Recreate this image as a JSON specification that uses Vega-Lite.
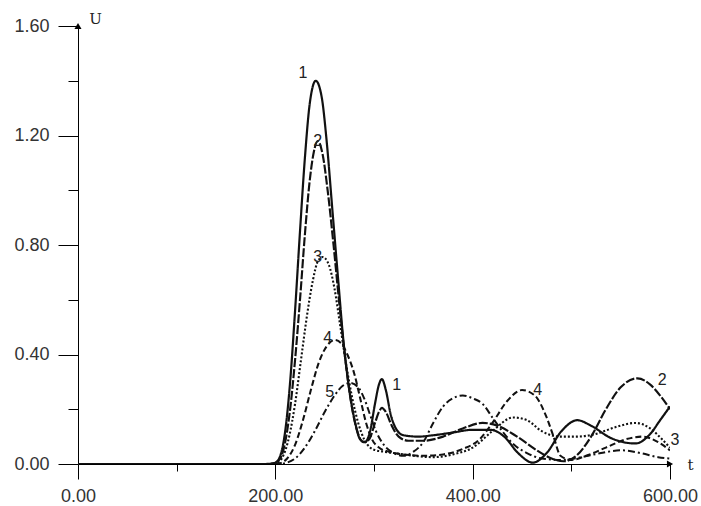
{
  "$schema": "https://vega.github.io/schema/vega-lite/v6.json",
  "width": 592,
  "height": 438,
  "autosize": "none",
  "padding": {"left": 78, "top": 26, "right": 31, "bottom": 42},
  "background": "white",
  "view": {"stroke": null},
  "config": {
    "axis": {"domainColor": "#000", "tickColor": "#000", "grid": false, "labelFont": "Liberation Sans", "labelFontSize": 18, "labelColor": "#333", "titleFont": "DejaVu Serif", "titleFontSize": 15, "titleFontWeight": "normal", "titleColor": "#222"}
  },
  "datasets": {
    "curves": [
      {"curve": "1", "t": 0, "U": 0}, {"curve": "1", "t": 190, "U": 0}, {"curve": "1", "t": 200, "U": 0.005}, {"curve": "1", "t": 205, "U": 0.03}, {"curve": "1", "t": 210, "U": 0.12}, {"curve": "1", "t": 215, "U": 0.3}, {"curve": "1", "t": 220, "U": 0.56}, {"curve": "1", "t": 225, "U": 0.85}, {"curve": "1", "t": 230, "U": 1.12}, {"curve": "1", "t": 235, "U": 1.32}, {"curve": "1", "t": 241, "U": 1.4}, {"curve": "1", "t": 247, "U": 1.34}, {"curve": "1", "t": 252, "U": 1.18}, {"curve": "1", "t": 258, "U": 0.92}, {"curve": "1", "t": 264, "U": 0.66}, {"curve": "1", "t": 269, "U": 0.45}, {"curve": "1", "t": 275, "U": 0.27}, {"curve": "1", "t": 281, "U": 0.15}, {"curve": "1", "t": 286, "U": 0.09}, {"curve": "1", "t": 291, "U": 0.08}, {"curve": "1", "t": 296, "U": 0.12}, {"curve": "1", "t": 301, "U": 0.22}, {"curve": "1", "t": 305, "U": 0.29}, {"curve": "1", "t": 308, "U": 0.31}, {"curve": "1", "t": 312, "U": 0.27}, {"curve": "1", "t": 317, "U": 0.18}, {"curve": "1", "t": 323, "U": 0.125}, {"curve": "1", "t": 330, "U": 0.105}, {"curve": "1", "t": 345, "U": 0.1}, {"curve": "1", "t": 360, "U": 0.105}, {"curve": "1", "t": 380, "U": 0.115}, {"curve": "1", "t": 400, "U": 0.125}, {"curve": "1", "t": 418, "U": 0.125}, {"curve": "1", "t": 432, "U": 0.1}, {"curve": "1", "t": 446, "U": 0.04}, {"curve": "1", "t": 461, "U": 0.005}, {"curve": "1", "t": 475, "U": 0.04}, {"curve": "1", "t": 490, "U": 0.12}, {"curve": "1", "t": 506, "U": 0.16}, {"curve": "1", "t": 520, "U": 0.14}, {"curve": "1", "t": 540, "U": 0.095}, {"curve": "1", "t": 565, "U": 0.075}, {"curve": "1", "t": 580, "U": 0.11}, {"curve": "1", "t": 590, "U": 0.16}, {"curve": "1", "t": 600, "U": 0.21},

      {"curve": "2", "t": 0, "U": 0}, {"curve": "2", "t": 195, "U": 0}, {"curve": "2", "t": 200, "U": 0.005}, {"curve": "2", "t": 205, "U": 0.02}, {"curve": "2", "t": 210, "U": 0.08}, {"curve": "2", "t": 215, "U": 0.2}, {"curve": "2", "t": 220, "U": 0.38}, {"curve": "2", "t": 225, "U": 0.6}, {"curve": "2", "t": 230, "U": 0.84}, {"curve": "2", "t": 235, "U": 1.04}, {"curve": "2", "t": 239, "U": 1.14}, {"curve": "2", "t": 243, "U": 1.18}, {"curve": "2", "t": 248, "U": 1.13}, {"curve": "2", "t": 253, "U": 1.0}, {"curve": "2", "t": 259, "U": 0.8}, {"curve": "2", "t": 265, "U": 0.58}, {"curve": "2", "t": 271, "U": 0.38}, {"curve": "2", "t": 277, "U": 0.22}, {"curve": "2", "t": 283, "U": 0.12}, {"curve": "2", "t": 289, "U": 0.08}, {"curve": "2", "t": 295, "U": 0.09}, {"curve": "2", "t": 301, "U": 0.15}, {"curve": "2", "t": 305, "U": 0.19}, {"curve": "2", "t": 308, "U": 0.205}, {"curve": "2", "t": 312, "U": 0.19}, {"curve": "2", "t": 318, "U": 0.14}, {"curve": "2", "t": 325, "U": 0.1}, {"curve": "2", "t": 335, "U": 0.085}, {"curve": "2", "t": 350, "U": 0.085}, {"curve": "2", "t": 370, "U": 0.1}, {"curve": "2", "t": 390, "U": 0.13}, {"curve": "2", "t": 410, "U": 0.15}, {"curve": "2", "t": 425, "U": 0.14}, {"curve": "2", "t": 445, "U": 0.1}, {"curve": "2", "t": 465, "U": 0.05}, {"curve": "2", "t": 480, "U": 0.02}, {"curve": "2", "t": 492, "U": 0.01}, {"curve": "2", "t": 505, "U": 0.03}, {"curve": "2", "t": 520, "U": 0.1}, {"curve": "2", "t": 535, "U": 0.2}, {"curve": "2", "t": 550, "U": 0.28}, {"curve": "2", "t": 567, "U": 0.313}, {"curve": "2", "t": 580, "U": 0.29}, {"curve": "2", "t": 590, "U": 0.25}, {"curve": "2", "t": 600, "U": 0.2},

      {"curve": "3", "t": 0, "U": 0}, {"curve": "3", "t": 195, "U": 0}, {"curve": "3", "t": 202, "U": 0.005}, {"curve": "3", "t": 208, "U": 0.03}, {"curve": "3", "t": 214, "U": 0.1}, {"curve": "3", "t": 220, "U": 0.22}, {"curve": "3", "t": 226, "U": 0.38}, {"curve": "3", "t": 232, "U": 0.54}, {"curve": "3", "t": 238, "U": 0.67}, {"curve": "3", "t": 243, "U": 0.74}, {"curve": "3", "t": 248, "U": 0.756}, {"curve": "3", "t": 254, "U": 0.73}, {"curve": "3", "t": 260, "U": 0.64}, {"curve": "3", "t": 266, "U": 0.5}, {"curve": "3", "t": 272, "U": 0.36}, {"curve": "3", "t": 278, "U": 0.24}, {"curve": "3", "t": 284, "U": 0.15}, {"curve": "3", "t": 290, "U": 0.09}, {"curve": "3", "t": 296, "U": 0.06}, {"curve": "3", "t": 302, "U": 0.05}, {"curve": "3", "t": 310, "U": 0.045}, {"curve": "3", "t": 320, "U": 0.04}, {"curve": "3", "t": 340, "U": 0.03}, {"curve": "3", "t": 360, "U": 0.025}, {"curve": "3", "t": 380, "U": 0.035}, {"curve": "3", "t": 400, "U": 0.06}, {"curve": "3", "t": 420, "U": 0.12}, {"curve": "3", "t": 441, "U": 0.17}, {"curve": "3", "t": 455, "U": 0.16}, {"curve": "3", "t": 470, "U": 0.12}, {"curve": "3", "t": 488, "U": 0.1}, {"curve": "3", "t": 505, "U": 0.1}, {"curve": "3", "t": 525, "U": 0.11}, {"curve": "3", "t": 545, "U": 0.135}, {"curve": "3", "t": 565, "U": 0.15}, {"curve": "3", "t": 580, "U": 0.13}, {"curve": "3", "t": 592, "U": 0.09}, {"curve": "3", "t": 600, "U": 0.06},

      {"curve": "4", "t": 0, "U": 0}, {"curve": "4", "t": 200, "U": 0}, {"curve": "4", "t": 205, "U": 0.003}, {"curve": "4", "t": 212, "U": 0.02}, {"curve": "4", "t": 220, "U": 0.07}, {"curve": "4", "t": 228, "U": 0.16}, {"curve": "4", "t": 236, "U": 0.27}, {"curve": "4", "t": 244, "U": 0.37}, {"curve": "4", "t": 252, "U": 0.43}, {"curve": "4", "t": 260, "U": 0.453}, {"curve": "4", "t": 267, "U": 0.44}, {"curve": "4", "t": 273, "U": 0.4}, {"curve": "4", "t": 280, "U": 0.33}, {"curve": "4", "t": 286, "U": 0.24}, {"curve": "4", "t": 292, "U": 0.15}, {"curve": "4", "t": 298, "U": 0.09}, {"curve": "4", "t": 305, "U": 0.06}, {"curve": "4", "t": 315, "U": 0.045}, {"curve": "4", "t": 330, "U": 0.035}, {"curve": "4", "t": 350, "U": 0.03}, {"curve": "4", "t": 370, "U": 0.035}, {"curve": "4", "t": 390, "U": 0.055}, {"curve": "4", "t": 407, "U": 0.09}, {"curve": "4", "t": 420, "U": 0.15}, {"curve": "4", "t": 435, "U": 0.23}, {"curve": "4", "t": 450, "U": 0.27}, {"curve": "4", "t": 463, "U": 0.25}, {"curve": "4", "t": 475, "U": 0.17}, {"curve": "4", "t": 482, "U": 0.1}, {"curve": "4", "t": 489, "U": 0.03}, {"curve": "4", "t": 500, "U": 0.015}, {"curve": "4", "t": 515, "U": 0.03}, {"curve": "4", "t": 535, "U": 0.06}, {"curve": "4", "t": 555, "U": 0.09}, {"curve": "4", "t": 572, "U": 0.1}, {"curve": "4", "t": 588, "U": 0.08}, {"curve": "4", "t": 600, "U": 0.05},

      {"curve": "5", "t": 0, "U": 0}, {"curve": "5", "t": 205, "U": 0}, {"curve": "5", "t": 212, "U": 0.005}, {"curve": "5", "t": 220, "U": 0.02}, {"curve": "5", "t": 230, "U": 0.06}, {"curve": "5", "t": 240, "U": 0.12}, {"curve": "5", "t": 250, "U": 0.19}, {"curve": "5", "t": 260, "U": 0.25}, {"curve": "5", "t": 268, "U": 0.285}, {"curve": "5", "t": 276, "U": 0.296}, {"curve": "5", "t": 284, "U": 0.28}, {"curve": "5", "t": 290, "U": 0.24}, {"curve": "5", "t": 296, "U": 0.18}, {"curve": "5", "t": 302, "U": 0.12}, {"curve": "5", "t": 310, "U": 0.07}, {"curve": "5", "t": 320, "U": 0.04}, {"curve": "5", "t": 330, "U": 0.03}, {"curve": "5", "t": 340, "U": 0.045}, {"curve": "5", "t": 350, "U": 0.08}, {"curve": "5", "t": 360, "U": 0.15}, {"curve": "5", "t": 370, "U": 0.21}, {"curve": "5", "t": 380, "U": 0.24}, {"curve": "5", "t": 390, "U": 0.25}, {"curve": "5", "t": 400, "U": 0.24}, {"curve": "5", "t": 410, "U": 0.22}, {"curve": "5", "t": 420, "U": 0.17}, {"curve": "5", "t": 430, "U": 0.12}, {"curve": "5", "t": 442, "U": 0.07}, {"curve": "5", "t": 455, "U": 0.04}, {"curve": "5", "t": 470, "U": 0.02}, {"curve": "5", "t": 490, "U": 0.015}, {"curve": "5", "t": 510, "U": 0.025}, {"curve": "5", "t": 530, "U": 0.04}, {"curve": "5", "t": 550, "U": 0.05}, {"curve": "5", "t": 570, "U": 0.04}, {"curve": "5", "t": 588, "U": 0.025}, {"curve": "5", "t": 600, "U": 0.02}
    ],
    "labels": [
      {"label": "1", "t": 228, "U": 1.43},
      {"label": "2", "t": 243, "U": 1.18},
      {"label": "3", "t": 243, "U": 0.756},
      {"label": "4", "t": 253, "U": 0.46},
      {"label": "5", "t": 255, "U": 0.263},
      {"label": "1", "t": 323, "U": 0.289},
      {"label": "4", "t": 466, "U": 0.27},
      {"label": "2", "t": 592, "U": 0.307},
      {"label": "3", "t": 605, "U": 0.088}
    ],
    "arrows": [
      {"t": 0, "U": 1.6, "dir": "up"},
      {"t": 600, "U": 0, "dir": "right"}
    ]
  },
  "layer": [
    {
      "data": {"name": "curves"},
      "mark": {"type": "line", "interpolate": "monotone", "color": "#111", "clip": true},
      "encoding": {
        "x": {"field": "t", "type": "quantitative", "scale": {"domain": [0, 600], "nice": false, "zero": false},
          "axis": {"values": [0, 100, 200, 300, 400, 500, 600], "labelExpr": "datum.value % 200 === 0 ? format(datum.value, '.2f') : ''",
            "tickSize": {"condition": {"test": "datum.value % 200 !== 0", "value": 7}, "value": 15},
            "labelPadding": 8, "title": "t", "titleAngle": 0, "titleX": 612, "titleY": 0, "titleAlign": "center", "titleBaseline": "middle", "labelFlush": false}},
        "y": {"field": "U", "type": "quantitative", "scale": {"domain": [0, 1.6], "nice": false},
          "axis": {"values": [0, 0.2, 0.4, 0.6, 0.8, 1.0, 1.2, 1.4, 1.6], "labelExpr": "abs(datum.value/0.4 - round(datum.value/0.4)) < 0.01 ? format(datum.value, '.2f') : ''",
            "tickSize": {"condition": {"test": "abs(datum.value/0.4 - round(datum.value/0.4)) > 0.01", "value": 10}, "value": 20},
            "labelPadding": 9, "title": "U", "titleAngle": 0, "titleX": 17, "titleY": -8, "titleAlign": "center", "titleBaseline": "middle", "labelFlush": false}},
        "detail": {"field": "curve"},
        "strokeDash": {"field": "curve", "type": "nominal", "scale": {"domain": ["1", "2", "3", "4", "5"], "range": [[1, 0], [9, 2], [2, 2], [6, 3], [7, 3, 2, 3]]}, "legend": null},
        "strokeWidth": {"field": "curve", "type": "nominal", "scale": {"domain": ["1", "2", "3", "4", "5"], "range": [2.2, 2, 1.8, 1.7, 1.6]}, "legend": null}
      }
    },
    {
      "data": {"name": "labels"},
      "mark": {"type": "text", "font": "Liberation Sans", "fontSize": 16, "color": "#222", "align": "center", "baseline": "middle"},
      "encoding": {
        "x": {"field": "t", "type": "quantitative"},
        "y": {"field": "U", "type": "quantitative"},
        "text": {"field": "label"}
      }
    },
    {
      "data": {"name": "arrows"},
      "mark": {"type": "point", "filled": true, "color": "#000", "size": 50, "opacity": 1},
      "encoding": {
        "x": {"field": "t", "type": "quantitative"},
        "y": {"field": "U", "type": "quantitative"},
        "shape": {"field": "dir", "type": "nominal", "scale": {"domain": ["up", "right"], "range": ["triangle-up", "triangle-right"]}, "legend": null}
      }
    }
  ]
}
